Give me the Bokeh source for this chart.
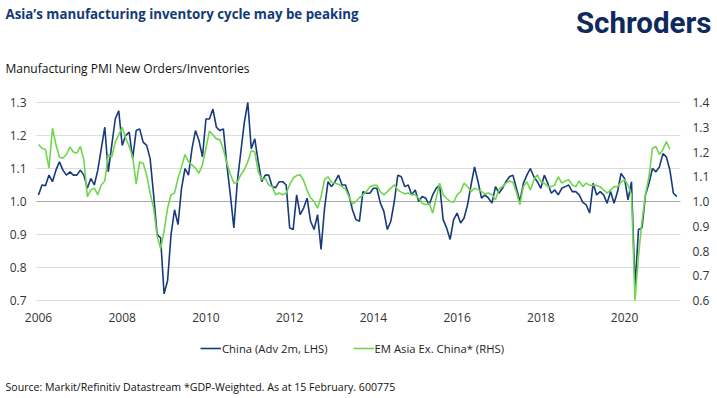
from bokeh.plotting import figure
from bokeh.models import (Range1d, LinearAxis, FixedTicker, PrintfTickFormatter,
                          Label, Legend, LegendItem, ColumnDataSource)
from bokeh.embed import file_html
from bokeh.resources import INLINE
import pandas as pd

title_text = "Asia\u2019s manufacturing inventory cycle may be peaking"
subtitle_text = "Manufacturing PMI New Orders/Inventories"
source_text = "Source: Markit/Refinitiv Datastream *GDP-Weighted. As at 15 February. 600775"
logo_text = "Schroders"
china_label = "China (Adv 2m, LHS)"
em_label = "EM Asia Ex. China* (RHS)"

x_ticks = [2006, 2008, 2010, 2012, 2014, 2016, 2018, 2020]
left_ticks = [0.7, 0.8, 0.9, 1.0, 1.1, 1.2, 1.3]
right_ticks = [0.6, 0.7, 0.8, 0.9, 1.0, 1.1, 1.2, 1.3, 1.4]

# China new orders/inventories (advanced 2 months), monthly from Jan 2006
china = [
    1.02, 1.05, 1.048, 1.08, 1.06, 1.095, 1.12, 1.095, 1.08, 1.09, 1.08, 1.08,
    1.095, 1.08, 1.04, 1.07, 1.05, 1.095, 1.16, 1.225, 1.09, 1.17, 1.25, 1.275,
    1.17, 1.20, 1.21, 1.13, 1.215, 1.22, 1.18, 1.17, 1.13, 1.02, 0.90, 0.89,
    0.72, 0.76, 0.90, 0.975, 0.93, 1.04, 1.10, 1.08, 1.16, 1.215, 1.185, 1.135,
    1.25, 1.25, 1.28, 1.225, 1.215, 1.22, 1.11, 1.02, 0.92, 1.06, 1.15, 1.24,
    1.30, 1.16, 1.19, 1.12, 1.06, 1.08, 1.08, 1.045, 1.042, 1.06, 1.06, 1.05,
    0.92, 0.915, 1.02, 0.96, 0.98, 1.01, 0.94, 0.915, 0.96, 0.855, 0.98, 1.06,
    1.045, 1.06, 1.08, 1.05, 1.05, 1.02, 0.975, 0.945, 0.94, 1.03, 1.025, 1.025,
    1.04, 1.04, 0.995, 0.97, 0.915, 0.94, 1.00, 1.08, 1.075, 1.045, 1.05, 1.02,
    1.035, 1.00, 1.015, 1.01, 0.99, 1.02, 1.04, 1.05, 0.945, 0.92, 0.885, 0.945,
    0.965, 0.935, 0.95, 0.99, 1.05, 1.105, 1.06, 1.01, 1.02, 1.01, 0.995, 1.045,
    1.025, 1.04, 1.06, 1.075, 1.08, 1.04, 1.00, 1.055, 1.08, 1.10, 1.075, 1.06,
    1.04, 1.08, 1.055, 1.025, 1.035, 1.02, 1.04, 1.045, 1.05, 1.03, 1.03, 1.02,
    0.998, 0.99, 0.965, 1.055, 1.02, 1.03, 1.02, 0.995, 1.03, 0.995, 1.03, 1.085,
    1.07, 1.005, 1.06, 0.74, 0.915, 0.92, 1.02, 1.055, 1.10, 1.09, 1.105, 1.145,
    1.135, 1.095, 1.025, 1.015,
]

# EM Asia ex China (GDP-weighted), monthly from Jan 2006, right axis
em_asia = [
    1.23, 1.215, 1.21, 1.135, 1.296, 1.23, 1.18, 1.175, 1.19, 1.22, 1.20, 1.195,
    1.222, 1.168, 1.02, 1.047, 1.054, 1.027, 1.067, 1.083, 1.19, 1.18, 1.24, 1.27,
    1.30, 1.256, 1.222, 1.18, 1.07, 1.16, 1.155, 1.108, 1.034, 0.973, 0.86, 0.81,
    0.88, 0.973, 1.027, 1.034, 1.094, 1.14, 1.19, 1.16, 1.148, 1.135, 1.114, 1.148,
    1.215, 1.285, 1.27, 1.253, 1.25, 1.21, 1.155, 1.11, 1.074, 1.078, 1.108, 1.128,
    1.16, 1.205, 1.20, 1.12, 1.088, 1.094, 1.067, 1.06, 1.027, 1.034, 1.027, 1.034,
    1.067, 1.094, 1.105, 1.108, 1.085, 1.045, 1.015, 1.0, 0.973, 1.02, 1.088, 1.10,
    1.078, 1.074, 1.07, 1.06, 1.05, 1.02, 0.99, 1.0, 1.016, 1.027, 1.04, 1.06,
    1.065, 1.065, 1.04, 1.027, 1.04, 1.054, 1.067, 1.047, 1.038, 1.031, 1.034, 1.027,
    1.027, 1.013, 0.993, 0.987, 0.993, 0.953, 1.013, 1.074, 1.027, 1.013, 1.0, 0.997,
    1.027, 1.04, 1.074, 1.06, 1.04, 1.054, 1.048, 1.04, 1.03, 1.034, 1.027, 1.007,
    1.05, 1.06, 1.074, 1.083, 1.078, 1.038, 0.987, 1.06, 1.08, 1.047, 1.088, 1.108,
    1.08, 1.074, 1.06, 1.06, 1.067, 1.10, 1.074, 1.083, 1.088, 1.067, 1.06, 1.083,
    1.06, 1.074, 1.065, 1.065, 1.065, 1.06, 1.047, 1.034, 1.047, 1.06, 1.06, 1.078,
    1.088, 1.067, 1.027, 0.60, 0.78, 0.92, 1.03, 1.10, 1.215, 1.222, 1.19, 1.21,
    1.242, 1.21,
]

def frac_years(n):
    d = pd.date_range("2006-01-01", periods=n, freq="MS")
    return list(d.year + (d.month - 1) / 12.0)

china_src = ColumnDataSource(dict(x=frac_years(len(china)), y=china))
em_src = ColumnDataSource(dict(x=frac_years(len(em_asia)), y=em_asia))

NAVY = "#123a78"
CHINA_C = "#173a7c"
EM_C = "#6fd64e"
FONT = "Open Sans"

W, H = 717, 398
OX, OY = 0, 0            # page offset of the canvas (template has no body margin)

# layout scale: page pixel -> axis value (plot area 36..680 x 100..302 on the page)
PXY = 41.86              # px per year
def yr(px):
    return 2006 + (px - 38) / PXY
def lv(py):
    return 1 + (201 - py) / 330.0
def rv(py):
    return 1 + (201 - py) / 247.5

p = figure(width=W, height=H, output_backend="svg", toolbar_location=None,
           x_range=Range1d(yr(OX), yr(OX + W)),
           y_range=Range1d(lv(OY + H), lv(OY)),
           min_border_left=0, min_border_right=0, min_border_top=0,
           min_border_bottom=0, outline_line_color=None,
           background_fill_color="white", border_fill_color="white")
p.title.visible = False
p.extra_y_ranges = {"right": Range1d(rv(OY + H), rv(OY))}
p.xgrid.visible = False
p.ygrid.visible = False

# horizontal grid lines across the plot area only
GX0, GX1 = yr(36), yr(680)
other = [t for t in left_ticks if t != 1.0]
p.segment(x0=[GX0] * len(other), x1=[GX1] * len(other), y0=other, y1=other,
          line_color="#dcdcdc", line_width=1)
p.segment(x0=[GX0], x1=[GX1], y0=[1.0], y1=[1.0], line_color="#a8a8a8", line_width=1)

def style_axis(ax, standoff):
    ax.axis_line_color = None
    ax.major_tick_line_color = None
    ax.minor_tick_line_color = None
    ax.major_tick_out = 0
    ax.major_tick_in = 0
    ax.minor_tick_out = 0
    ax.minor_tick_in = 0
    ax.major_label_text_font = FONT
    ax.major_label_text_font_size = "12px"
    ax.major_label_text_color = "#333333"
    ax.major_label_standoff = standoff

xa = p.xaxis[0]
xa.ticker = FixedTicker(ticks=x_ticks)
xa.formatter = PrintfTickFormatter(format="%d")
xa.fixed_location = lv(302)
style_axis(xa, 10)

ya = p.yaxis[0]
ya.ticker = FixedTicker(ticks=left_ticks)
ya.formatter = PrintfTickFormatter(format="%.1f")
ya.fixed_location = yr(36)
style_axis(ya, 10)

ra = LinearAxis(y_range_name="right", ticker=FixedTicker(ticks=right_ticks),
                formatter=PrintfTickFormatter(format="%.1f"))
p.add_layout(ra, "right")
ra.fixed_location = yr(680)
style_axis(ra, 12)

r_china = p.line("x", "y", source=china_src, line_color=CHINA_C, line_width=1.6)
r_em = p.line("x", "y", source=em_src, line_color=EM_C, line_width=1.6,
              y_range_name="right")

legend = Legend(items=[LegendItem(label=china_label, renderers=[r_china]),
                       LegendItem(label=em_label, renderers=[r_em])],
                orientation="horizontal", location=(200 - OX, OY + H - 358),
                background_fill_alpha=0, border_line_color=None,
                label_text_font=FONT, label_text_font_size="11.3px",
                label_text_color="#222222", glyph_width=21, glyph_height=20,
                label_height=20, label_standoff=1, spacing=25, padding=0, margin=0)
p.add_layout(legend, "center")

def add_text(txt, px, py, size, color, bold=False, font=FONT, align="left"):
    p.add_layout(Label(x=px - OX, y=OY + H - py, x_units="screen", y_units="screen",
                       text=txt, text_font=font, text_font_size=size,
                       text_color=color, text_baseline="alphabetic",
                       text_align=align,
                       text_font_style="bold" if bold else "normal"))

add_text(title_text, 5, 13.5, "13.3px", NAVY, bold=True)
add_text(logo_text, 711, 22.6, "29.5px", "#0e2a5c", bold=True, font="Roboto", align="right")
add_text(subtitle_text, 5, 68.3, "12px", "#111111")
add_text(source_text, 5, 386.8, "10.6px", "#111111")

open("out.html", "w").write(file_html(p, INLINE))
